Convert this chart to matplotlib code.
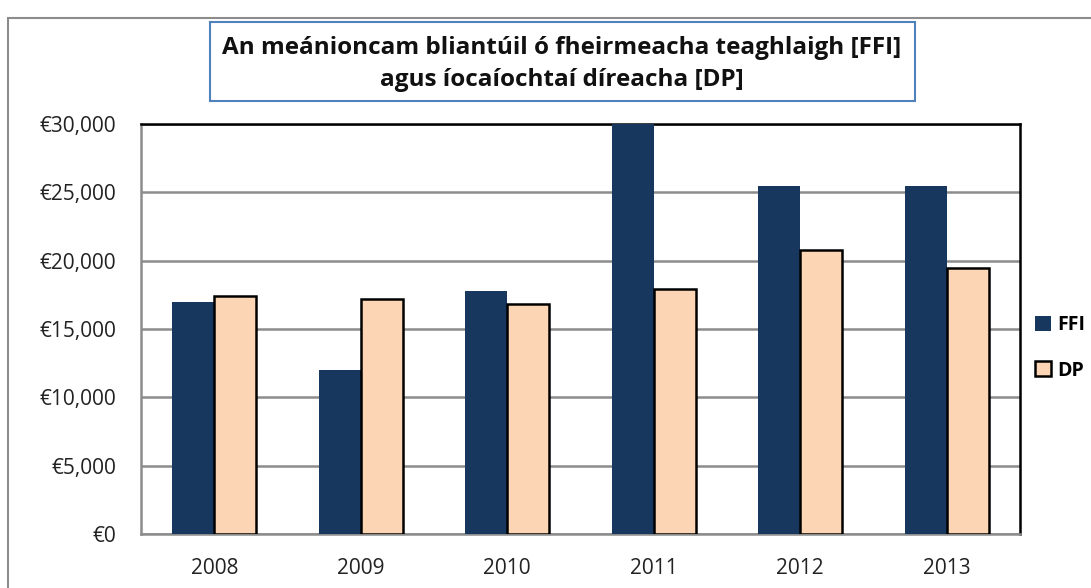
import numpy as np
import matplotlib.pyplot as plt
from matplotlib.patches import Rectangle

years = ["2008", "2009", "2010", "2011", "2012", "2013"]
ffi = [17000, 12000, 17800, 30000, 25500, 25500]
dp = [17400, 17200, 16800, 17900, 20800, 19500]
yticks = [0, 5000, 10000, 15000, 20000, 25000, 30000]
ytick_labels = ["€0", "€5,000", "€10,000", "€15,000", "€20,000", "€25,000", "€30,000"]

plt.rcParams["font.family"] = ["Open Sans", "DejaVu Sans"]

fig = plt.figure(figsize=(10.91, 5.88), dpi=100)
W, H = 1091, 588

# outer chart frame (cut off at right and bottom)
fig.patches.append(Rectangle((8 / W, -0.1), 1.2, 1 - 18 / H + 0.1,
                             transform=fig.transFigure, fill=False,
                             edgecolor="#8c8c8c", linewidth=1.5))

# title box
fig.patches.append(Rectangle((210 / W, 1 - 101 / H), (915 - 210) / W, 79 / H,
                             transform=fig.transFigure, facecolor="white",
                             edgecolor="#4f81bd", linewidth=1.5))

ax = fig.add_axes([141 / W, 1 - 534 / H, (1020 - 141) / W, (534 - 124) / H])

x = np.arange(len(years))
w = 0.286
ax.bar(x - w / 2, ffi, w, color="#17375e", label="FFI", zorder=3)
ax.bar(x + w / 2, dp, w, color="#fcd5b5", edgecolor="black", linewidth=1.8,
       label="DP", zorder=3)

ax.set_xlim(-0.5, len(years) - 0.5)
ax.set_ylim(0, 30000)
ax.set_yticks(yticks)
ax.set_yticklabels(ytick_labels)
ax.set_xticks(x)
ax.set_xticklabels(years)
ax.tick_params(axis="both", length=0, labelsize=15, colors="#222222")
ax.tick_params(axis="y", pad=18)
ax.tick_params(axis="x", pad=17)
ax.yaxis.grid(True, color="#8c8c8c", linewidth=1.8, zorder=0)

for side in ["top", "right"]:
    ax.spines[side].set_color("black")
    ax.spines[side].set_linewidth(1.8)
for side in ["left", "bottom"]:
    ax.spines[side].set_color("#8c8c8c")
    ax.spines[side].set_linewidth(1.8)

ax.legend(loc="center left", bbox_to_anchor=(1035 / W, 1 - 348 / H),
          bbox_transform=fig.transFigure, frameon=False,
          borderpad=0, borderaxespad=0,
          handlelength=0.8, handleheight=0.8, handletextpad=0.35,
          labelspacing=1.3, prop={"weight": "bold", "size": 14})

fig.text(562 / W, 1 - 64 / H,
         "An meánioncam bliantúil ó fheirmeacha teaghlaigh [FFI]\nagus íocaíochtaí díreacha [DP]",
         ha="center", va="center", fontsize=17.5, fontweight="bold",
         linespacing=1.5, color="#111111")

fig.savefig("out.png", dpi=100)
